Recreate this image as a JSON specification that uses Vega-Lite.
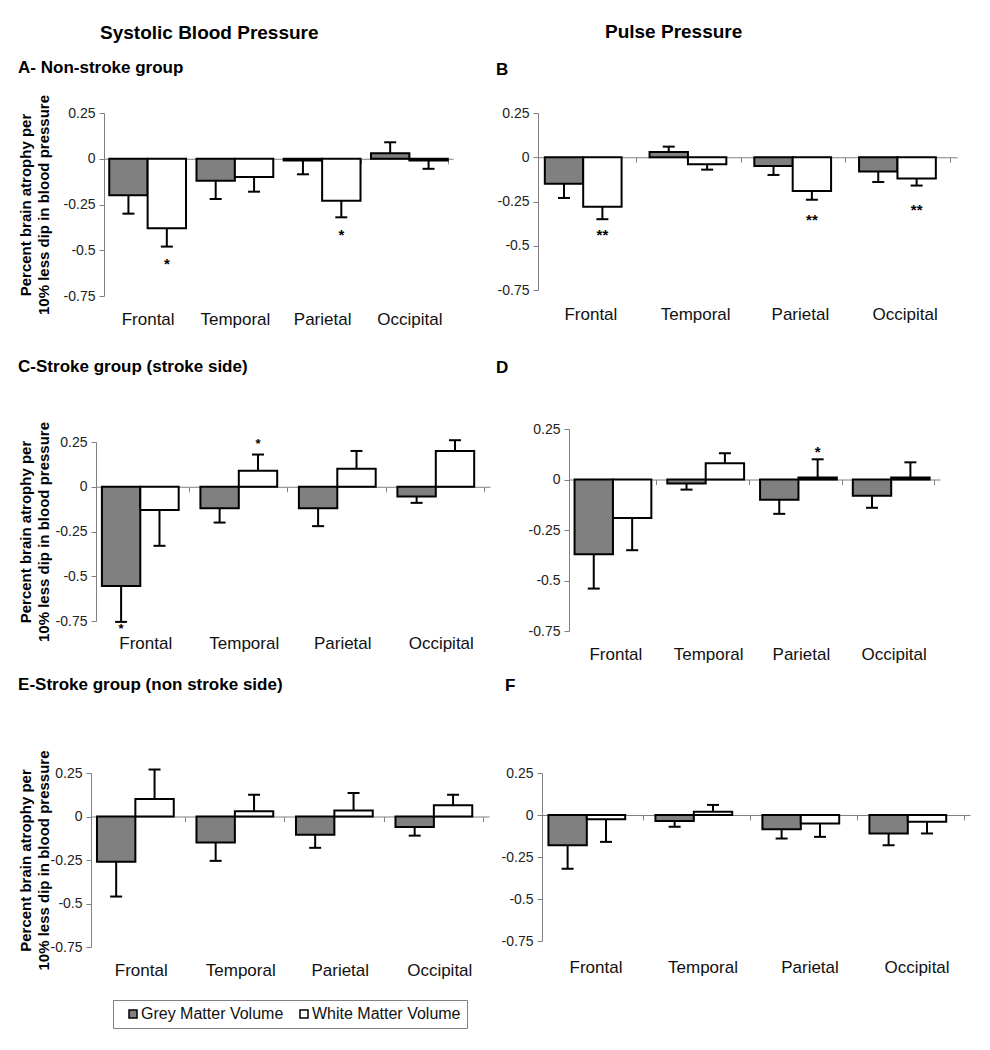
{
  "$schema": "https://vega.github.io/schema/vega-lite/v6.json",
  "background": "white",
  "padding": {"left": 17, "top": 23, "right": 4, "bottom": 6},
  "config": {
    "font": "Liberation Sans",
    "view": {"stroke": null},
    "title": {"color": "black", "fontWeight": "bold"},
    "legend": {"layout": {"bottom": {"anchor": "middle"}}}
  },
  "data": {"values": [
    {"panel": "A", "region": "Frontal", "type": "Grey Matter Volume", "value": -0.2, "err": -0.3, "star": "", "stary": 0},
    {"panel": "A", "region": "Frontal", "type": "White Matter Volume", "value": -0.38, "err": -0.48, "star": "*", "stary": -0.56},
    {"panel": "A", "region": "Temporal", "type": "Grey Matter Volume", "value": -0.12, "err": -0.22, "star": "", "stary": 0},
    {"panel": "A", "region": "Temporal", "type": "White Matter Volume", "value": -0.1, "err": -0.18, "star": "", "stary": 0},
    {"panel": "A", "region": "Parietal", "type": "Grey Matter Volume", "value": -0.01, "err": -0.085, "star": "", "stary": 0},
    {"panel": "A", "region": "Parietal", "type": "White Matter Volume", "value": -0.23, "err": -0.32, "star": "*", "stary": -0.4},
    {"panel": "A", "region": "Occipital", "type": "Grey Matter Volume", "value": 0.03, "err": 0.09, "star": "", "stary": 0},
    {"panel": "A", "region": "Occipital", "type": "White Matter Volume", "value": -0.01, "err": -0.055, "star": "", "stary": 0},

    {"panel": "B", "region": "Frontal", "type": "Grey Matter Volume", "value": -0.15, "err": -0.23, "star": "", "stary": 0},
    {"panel": "B", "region": "Frontal", "type": "White Matter Volume", "value": -0.28, "err": -0.35, "star": "**", "stary": -0.42},
    {"panel": "B", "region": "Temporal", "type": "Grey Matter Volume", "value": 0.03, "err": 0.06, "star": "", "stary": 0},
    {"panel": "B", "region": "Temporal", "type": "White Matter Volume", "value": -0.04, "err": -0.07, "star": "", "stary": 0},
    {"panel": "B", "region": "Parietal", "type": "Grey Matter Volume", "value": -0.05, "err": -0.1, "star": "", "stary": 0},
    {"panel": "B", "region": "Parietal", "type": "White Matter Volume", "value": -0.19, "err": -0.24, "star": "**", "stary": -0.34},
    {"panel": "B", "region": "Occipital", "type": "Grey Matter Volume", "value": -0.08, "err": -0.14, "star": "", "stary": 0},
    {"panel": "B", "region": "Occipital", "type": "White Matter Volume", "value": -0.12, "err": -0.16, "star": "**", "stary": -0.28},

    {"panel": "C", "region": "Frontal", "type": "Grey Matter Volume", "value": -0.555, "err": -0.755, "star": "*", "stary": -0.785},
    {"panel": "C", "region": "Frontal", "type": "White Matter Volume", "value": -0.13, "err": -0.33, "star": "", "stary": 0},
    {"panel": "C", "region": "Temporal", "type": "Grey Matter Volume", "value": -0.12, "err": -0.2, "star": "", "stary": 0},
    {"panel": "C", "region": "Temporal", "type": "White Matter Volume", "value": 0.09, "err": 0.18, "star": "*", "stary": 0.25},
    {"panel": "C", "region": "Parietal", "type": "Grey Matter Volume", "value": -0.12, "err": -0.22, "star": "", "stary": 0},
    {"panel": "C", "region": "Parietal", "type": "White Matter Volume", "value": 0.1, "err": 0.2, "star": "", "stary": 0},
    {"panel": "C", "region": "Occipital", "type": "Grey Matter Volume", "value": -0.055, "err": -0.09, "star": "", "stary": 0},
    {"panel": "C", "region": "Occipital", "type": "White Matter Volume", "value": 0.2, "err": 0.26, "star": "", "stary": 0},

    {"panel": "D", "region": "Frontal", "type": "Grey Matter Volume", "value": -0.37, "err": -0.54, "star": "", "stary": 0},
    {"panel": "D", "region": "Frontal", "type": "White Matter Volume", "value": -0.19, "err": -0.35, "star": "", "stary": 0},
    {"panel": "D", "region": "Temporal", "type": "Grey Matter Volume", "value": -0.02, "err": -0.05, "star": "", "stary": 0},
    {"panel": "D", "region": "Temporal", "type": "White Matter Volume", "value": 0.08, "err": 0.13, "star": "", "stary": 0},
    {"panel": "D", "region": "Parietal", "type": "Grey Matter Volume", "value": -0.1, "err": -0.17, "star": "", "stary": 0},
    {"panel": "D", "region": "Parietal", "type": "White Matter Volume", "value": 0.01, "err": 0.1, "star": "*", "stary": 0.15},
    {"panel": "D", "region": "Occipital", "type": "Grey Matter Volume", "value": -0.08, "err": -0.14, "star": "", "stary": 0},
    {"panel": "D", "region": "Occipital", "type": "White Matter Volume", "value": 0.01, "err": 0.085, "star": "", "stary": 0},

    {"panel": "E", "region": "Frontal", "type": "Grey Matter Volume", "value": -0.26, "err": -0.46, "star": "", "stary": 0},
    {"panel": "E", "region": "Frontal", "type": "White Matter Volume", "value": 0.1, "err": 0.27, "star": "", "stary": 0},
    {"panel": "E", "region": "Temporal", "type": "Grey Matter Volume", "value": -0.15, "err": -0.255, "star": "", "stary": 0},
    {"panel": "E", "region": "Temporal", "type": "White Matter Volume", "value": 0.03, "err": 0.125, "star": "", "stary": 0},
    {"panel": "E", "region": "Parietal", "type": "Grey Matter Volume", "value": -0.105, "err": -0.18, "star": "", "stary": 0},
    {"panel": "E", "region": "Parietal", "type": "White Matter Volume", "value": 0.035, "err": 0.135, "star": "", "stary": 0},
    {"panel": "E", "region": "Occipital", "type": "Grey Matter Volume", "value": -0.06, "err": -0.11, "star": "", "stary": 0},
    {"panel": "E", "region": "Occipital", "type": "White Matter Volume", "value": 0.065, "err": 0.125, "star": "", "stary": 0},

    {"panel": "F", "region": "Frontal", "type": "Grey Matter Volume", "value": -0.18, "err": -0.32, "star": "", "stary": 0},
    {"panel": "F", "region": "Frontal", "type": "White Matter Volume", "value": -0.025, "err": -0.16, "star": "", "stary": 0},
    {"panel": "F", "region": "Temporal", "type": "Grey Matter Volume", "value": -0.035, "err": -0.07, "star": "", "stary": 0},
    {"panel": "F", "region": "Temporal", "type": "White Matter Volume", "value": 0.02, "err": 0.06, "star": "", "stary": 0},
    {"panel": "F", "region": "Parietal", "type": "Grey Matter Volume", "value": -0.085, "err": -0.14, "star": "", "stary": 0},
    {"panel": "F", "region": "Parietal", "type": "White Matter Volume", "value": -0.05, "err": -0.13, "star": "", "stary": 0},
    {"panel": "F", "region": "Occipital", "type": "Grey Matter Volume", "value": -0.11, "err": -0.18, "star": "", "stary": 0},
    {"panel": "F", "region": "Occipital", "type": "White Matter Volume", "value": -0.04, "err": -0.11, "star": "", "stary": 0}
  ]},
  "resolve": {"legend": {"fill": "independent"}},
  "spacing": 2,
  "hconcat": [
    {
      "title": {"text": "Systolic Blood Pressure", "anchor": "start", "dx": 83, "fontSize": 19, "offset": 16},
      "columns": 2,
      "spacing": {"row": 20, "column": 0},
      "align": "none",
      "resolve": {"legend": {"fill": "independent"}},
      "concat": [
        {"data": {"values": []}, "mark": {"type": "point", "opacity": 0}, "width": 1, "height": 1},
        {
          "width": 349, "height": 183,
          "title": {"text": "A- Non-stroke group", "anchor": "start", "fontSize": 17, "offset": 17},
          "transform": [{"filter": "datum.panel === 'A'"}],
          "encoding": {
            "x": {"field": "region", "type": "nominal", "sort": ["Frontal", "Temporal", "Parietal", "Occipital"],
                  "scale": {"paddingInner": 0.12, "paddingOuter": 0.06},
                  "axis": {"title": null, "labelAngle": 0, "offset": -137.25, "labelPadding": 148, "tickBand": "extent", "tickSize": 5, "tickColor": "#808080", "domainColor": "#808080", "labelFontSize": 17, "labelColor": "#111", "minExtent": 179, "maxExtent": 400}},
            "xOffset": {"field": "type", "type": "nominal", "sort": ["Grey Matter Volume", "White Matter Volume"]}
          },
          "layer": [
            {"mark": {"type": "bar", "stroke": "black", "strokeWidth": 2},
             "encoding": {
               "y": {"field": "value", "type": "quantitative", "scale": {"domain": [-0.75, 0.25], "nice": false, "zero": false},
                     "axis": {"title": ["Percent brain atrophy per", "10% less dip in blood pressure"], "values": [-0.75, -0.5, -0.25, 0, 0.25], "labelExpr": "'' + datum.value", "grid": false, "domainColor": "#808080", "tickColor": "#808080", "tickSize": 5, "labelPadding": 4, "labelFontSize": 14, "labelColor": "#222", "titleFontSize": 15, "titleFontWeight": "bold", "titleColor": "black", "titleLineHeight": 18, "titlePadding": 12}},
               "y2": {"datum": 0},
               "fill": {"field": "type", "type": "nominal", "scale": {"domain": ["Grey Matter Volume", "White Matter Volume"], "range": ["#808080", "#ffffff"]}, "legend": null}
             }},
            {"mark": {"type": "rule", "strokeWidth": 2, "color": "black"},
             "encoding": {"y": {"field": "value", "type": "quantitative"}, "y2": {"field": "err"}}},
            {"mark": {"type": "tick", "size": 12, "thickness": 2, "color": "black", "opacity": 1},
             "encoding": {"y": {"field": "err", "type": "quantitative"}}},
            {"transform": [{"filter": "datum.star !== ''"}],
             "mark": {"type": "text", "fontSize": 15, "fontWeight": "bold", "color": "black", "baseline": "middle", "dy": 3},
             "encoding": {"y": {"field": "stary", "type": "quantitative"}, "text": {"field": "star"}}}
          ]
        },
        {"data": {"values": []}, "mark": {"type": "point", "opacity": 0}, "width": 1, "height": 1},
        {
          "width": 394, "height": 179,
          "title": {"text": "C-Stroke group (stroke side)", "anchor": "start", "fontSize": 17, "offset": 45},
          "transform": [{"filter": "datum.panel === 'C'"}],
          "encoding": {
            "x": {"field": "region", "type": "nominal", "sort": ["Frontal", "Temporal", "Parietal", "Occipital"],
                  "scale": {"paddingInner": 0.12, "paddingOuter": 0.06},
                  "axis": {"title": null, "labelAngle": 0, "offset": -134.25, "labelPadding": 144, "tickBand": "extent", "tickSize": 5, "tickColor": "#808080", "domainColor": "#808080", "labelFontSize": 17, "labelColor": "#111", "minExtent": 169, "maxExtent": 400}},
            "xOffset": {"field": "type", "type": "nominal", "sort": ["Grey Matter Volume", "White Matter Volume"]}
          },
          "layer": [
            {"mark": {"type": "bar", "stroke": "black", "strokeWidth": 2},
             "encoding": {
               "y": {"field": "value", "type": "quantitative", "scale": {"domain": [-0.75, 0.25], "nice": false, "zero": false},
                     "axis": {"title": ["Percent brain atrophy per", "10% less dip in blood pressure"], "values": [-0.75, -0.5, -0.25, 0, 0.25], "labelExpr": "'' + datum.value", "grid": false, "domainColor": "#808080", "tickColor": "#808080", "tickSize": 5, "labelPadding": 4, "labelFontSize": 14, "labelColor": "#222", "titleFontSize": 15, "titleFontWeight": "bold", "titleColor": "black", "titleLineHeight": 18, "titlePadding": 4}},
               "y2": {"datum": 0},
               "fill": {"field": "type", "type": "nominal", "scale": {"domain": ["Grey Matter Volume", "White Matter Volume"], "range": ["#808080", "#ffffff"]}, "legend": null}
             }},
            {"mark": {"type": "rule", "strokeWidth": 2, "color": "black"},
             "encoding": {"y": {"field": "value", "type": "quantitative"}, "y2": {"field": "err"}}},
            {"mark": {"type": "tick", "size": 12, "thickness": 2, "color": "black", "opacity": 1},
             "encoding": {"y": {"field": "err", "type": "quantitative"}}},
            {"transform": [{"filter": "datum.star !== ''"}],
             "mark": {"type": "text", "fontSize": 13, "fontWeight": "bold", "color": "black", "baseline": "middle", "dy": 1.5},
             "encoding": {"y": {"field": "stary", "type": "quantitative"}, "text": {"field": "star"}}}
          ]
        },
        {"data": {"values": []}, "mark": {"type": "point", "opacity": 0}, "width": 1, "height": 1},
        {
          "width": 398, "height": 174,
          "title": {"text": "E-Stroke group (non stroke side)", "anchor": "start", "fontSize": 17, "offset": 55.5},
          "transform": [{"filter": "datum.panel === 'E'"}],
          "encoding": {
            "x": {"field": "region", "type": "nominal", "sort": ["Frontal", "Temporal", "Parietal", "Occipital"],
                  "scale": {"paddingInner": 0.12, "paddingOuter": 0.06},
                  "axis": {"title": null, "labelAngle": 0, "offset": -130.5, "labelPadding": 141, "tickBand": "extent", "tickSize": 5, "tickColor": "#808080", "domainColor": "#808080", "labelFontSize": 17, "labelColor": "#111", "maxExtent": 400}},
            "xOffset": {"field": "type", "type": "nominal", "sort": ["Grey Matter Volume", "White Matter Volume"]}
          },
          "layer": [
            {"mark": {"type": "bar", "stroke": "black", "strokeWidth": 2},
             "encoding": {
               "y": {"field": "value", "type": "quantitative", "scale": {"domain": [-0.75, 0.25], "nice": false, "zero": false},
                     "axis": {"title": ["Percent brain atrophy per", "10% less dip in blood pressure"], "values": [-0.75, -0.5, -0.25, 0, 0.25], "labelExpr": "'' + datum.value", "grid": false, "domainColor": "#808080", "tickColor": "#808080", "tickSize": 5, "labelPadding": 4, "labelFontSize": 14, "labelColor": "#222", "titleFontSize": 15, "titleFontWeight": "bold", "titleColor": "black", "titleLineHeight": 18, "titlePadding": -1}},
               "y2": {"datum": 0},
               "fill": {"field": "type", "type": "nominal", "scale": {"domain": ["Grey Matter Volume", "White Matter Volume"], "range": ["#808080", "#ffffff"]},
                        "legend": {"orient": "bottom", "direction": "horizontal", "title": null, "strokeColor": "#808080", "padding": 6, "offset": 21, "labelFontSize": 16, "labelColor": "#111", "symbolType": "square", "symbolSize": 64, "symbolStrokeColor": "black", "symbolStrokeWidth": 1.5, "symbolOffset": 6, "columnPadding": 6, "labelOffset": 0}}
             }},
            {"mark": {"type": "rule", "strokeWidth": 2, "color": "black"},
             "encoding": {"y": {"field": "value", "type": "quantitative"}, "y2": {"field": "err"}}},
            {"mark": {"type": "tick", "size": 12, "thickness": 2, "color": "black", "opacity": 1},
             "encoding": {"y": {"field": "err", "type": "quantitative"}}}
          ]
        }
      ]
    },
    {
      "title": {"text": "Pulse Pressure", "anchor": "start", "dx": 113, "fontSize": 19, "offset": 19},
      "columns": 2,
      "spacing": {"row": 10, "column": 0},
      "align": "none",
      "resolve": {"legend": {"fill": "independent"}},
      "concat": [
        {"data": {"values": []}, "mark": {"type": "point", "opacity": 0}, "width": 1, "height": 1},
        {
          "width": 419, "height": 177,
          "title": {"text": "B", "anchor": "start", "fontSize": 17, "offset": 27, "dx": 3},
          "transform": [{"filter": "datum.panel === 'B'"}],
          "encoding": {
            "x": {"field": "region", "type": "nominal", "sort": ["Frontal", "Temporal", "Parietal", "Occipital"],
                  "scale": {"paddingInner": 0.13, "paddingOuter": 0.065},
                  "axis": {"title": null, "labelAngle": 0, "offset": -132.75, "labelPadding": 144, "tickBand": "extent", "tickSize": 5, "tickColor": "#808080", "domainColor": "#808080", "labelFontSize": 17, "labelColor": "#111", "minExtent": 191, "maxExtent": 400}},
            "xOffset": {"field": "type", "type": "nominal", "sort": ["Grey Matter Volume", "White Matter Volume"]}
          },
          "layer": [
            {"mark": {"type": "bar", "stroke": "black", "strokeWidth": 2},
             "encoding": {
               "y": {"field": "value", "type": "quantitative", "title": null, "scale": {"domain": [-0.75, 0.25], "nice": false, "zero": false},
                     "axis": {"title": null, "minExtent": 45, "values": [-0.75, -0.5, -0.25, 0, 0.25], "labelExpr": "'' + datum.value", "grid": false, "domainColor": "#808080", "tickColor": "#808080", "tickSize": 5, "labelPadding": 4, "labelFontSize": 14, "labelColor": "#222"}},
               "y2": {"datum": 0},
               "fill": {"field": "type", "type": "nominal", "scale": {"domain": ["Grey Matter Volume", "White Matter Volume"], "range": ["#808080", "#ffffff"]}, "legend": null}
             }},
            {"mark": {"type": "rule", "strokeWidth": 2, "color": "black"},
             "encoding": {"y": {"field": "value", "type": "quantitative", "title": null}, "y2": {"field": "err"}}},
            {"mark": {"type": "tick", "size": 12, "thickness": 2, "color": "black", "opacity": 1},
             "encoding": {"y": {"field": "err", "type": "quantitative", "title": null}}},
            {"transform": [{"filter": "datum.star !== ''"}],
             "mark": {"type": "text", "fontSize": 15, "fontWeight": "bold", "color": "black", "baseline": "middle", "dy": 3},
             "encoding": {"y": {"field": "stary", "type": "quantitative", "title": null}, "text": {"field": "star"}}}
          ]
        },
        {"data": {"values": []}, "mark": {"type": "point", "opacity": 0}, "width": 1, "height": 1},
        {
          "width": 371, "height": 202,
          "title": {"text": "D", "anchor": "start", "fontSize": 17, "offset": 45, "dx": 3},
          "transform": [{"filter": "datum.panel === 'D'"}],
          "encoding": {
            "x": {"field": "region", "type": "nominal", "sort": ["Frontal", "Temporal", "Parietal", "Occipital"],
                  "scale": {"paddingInner": 0.12, "paddingOuter": 0.06},
                  "axis": {"title": null, "labelAngle": 0, "offset": -151.5, "labelPadding": 162, "tickBand": "extent", "tickSize": 5, "tickColor": "#808080", "domainColor": "#808080", "labelFontSize": 17, "labelColor": "#111", "minExtent": 187, "maxExtent": 400}},
            "xOffset": {"field": "type", "type": "nominal", "sort": ["Grey Matter Volume", "White Matter Volume"]}
          },
          "layer": [
            {"mark": {"type": "bar", "stroke": "black", "strokeWidth": 2},
             "encoding": {
               "y": {"field": "value", "type": "quantitative", "title": null, "scale": {"domain": [-0.75, 0.25], "nice": false, "zero": false},
                     "axis": {"title": null, "minExtent": 76, "values": [-0.75, -0.5, -0.25, 0, 0.25], "labelExpr": "'' + datum.value", "grid": false, "domainColor": "#808080", "tickColor": "#808080", "tickSize": 5, "labelPadding": 4, "labelFontSize": 14, "labelColor": "#222"}},
               "y2": {"datum": 0},
               "fill": {"field": "type", "type": "nominal", "scale": {"domain": ["Grey Matter Volume", "White Matter Volume"], "range": ["#808080", "#ffffff"]}, "legend": null}
             }},
            {"mark": {"type": "rule", "strokeWidth": 2, "color": "black"},
             "encoding": {"y": {"field": "value", "type": "quantitative", "title": null}, "y2": {"field": "err"}}},
            {"mark": {"type": "tick", "size": 12, "thickness": 2, "color": "black", "opacity": 1},
             "encoding": {"y": {"field": "err", "type": "quantitative", "title": null}}},
            {"transform": [{"filter": "datum.star !== ''"}],
             "mark": {"type": "text", "fontSize": 15, "fontWeight": "bold", "color": "black", "baseline": "middle", "dy": 3},
             "encoding": {"y": {"field": "stary", "type": "quantitative", "title": null}, "text": {"field": "star"}}}
          ]
        },
        {"data": {"values": []}, "mark": {"type": "point", "opacity": 0}, "width": 1, "height": 1},
        {
          "width": 428, "height": 168,
          "title": {"text": "F", "anchor": "start", "fontSize": 17, "offset": 71, "dx": 12},
          "transform": [{"filter": "datum.panel === 'F'"}],
          "encoding": {
            "x": {"field": "region", "type": "nominal", "sort": ["Frontal", "Temporal", "Parietal", "Occipital"],
                  "scale": {"paddingInner": 0.12, "paddingOuter": 0.06},
                  "axis": {"title": null, "labelAngle": 0, "offset": -126, "labelPadding": 139, "tickBand": "extent", "tickSize": 5, "tickColor": "#808080", "domainColor": "#808080", "labelFontSize": 17, "labelColor": "#111", "maxExtent": 400}},
            "xOffset": {"field": "type", "type": "nominal", "sort": ["Grey Matter Volume", "White Matter Volume"]}
          },
          "layer": [
            {"mark": {"type": "bar", "stroke": "black", "strokeWidth": 2},
             "encoding": {
               "y": {"field": "value", "type": "quantitative", "title": null, "scale": {"domain": [-0.75, 0.25], "nice": false, "zero": false},
                     "axis": {"title": null, "minExtent": 49, "values": [-0.75, -0.5, -0.25, 0, 0.25], "labelExpr": "'' + datum.value", "grid": false, "domainColor": "#808080", "tickColor": "#808080", "tickSize": 5, "labelPadding": 4, "labelFontSize": 14, "labelColor": "#222"}},
               "y2": {"datum": 0},
               "fill": {"field": "type", "type": "nominal", "scale": {"domain": ["Grey Matter Volume", "White Matter Volume"], "range": ["#808080", "#ffffff"]}, "legend": null}
             }},
            {"mark": {"type": "rule", "strokeWidth": 2, "color": "black"},
             "encoding": {"y": {"field": "value", "type": "quantitative", "title": null}, "y2": {"field": "err"}}},
            {"mark": {"type": "tick", "size": 12, "thickness": 2, "color": "black", "opacity": 1},
             "encoding": {"y": {"field": "err", "type": "quantitative", "title": null}}}
          ]
        }
      ]
    }
  ]
}
